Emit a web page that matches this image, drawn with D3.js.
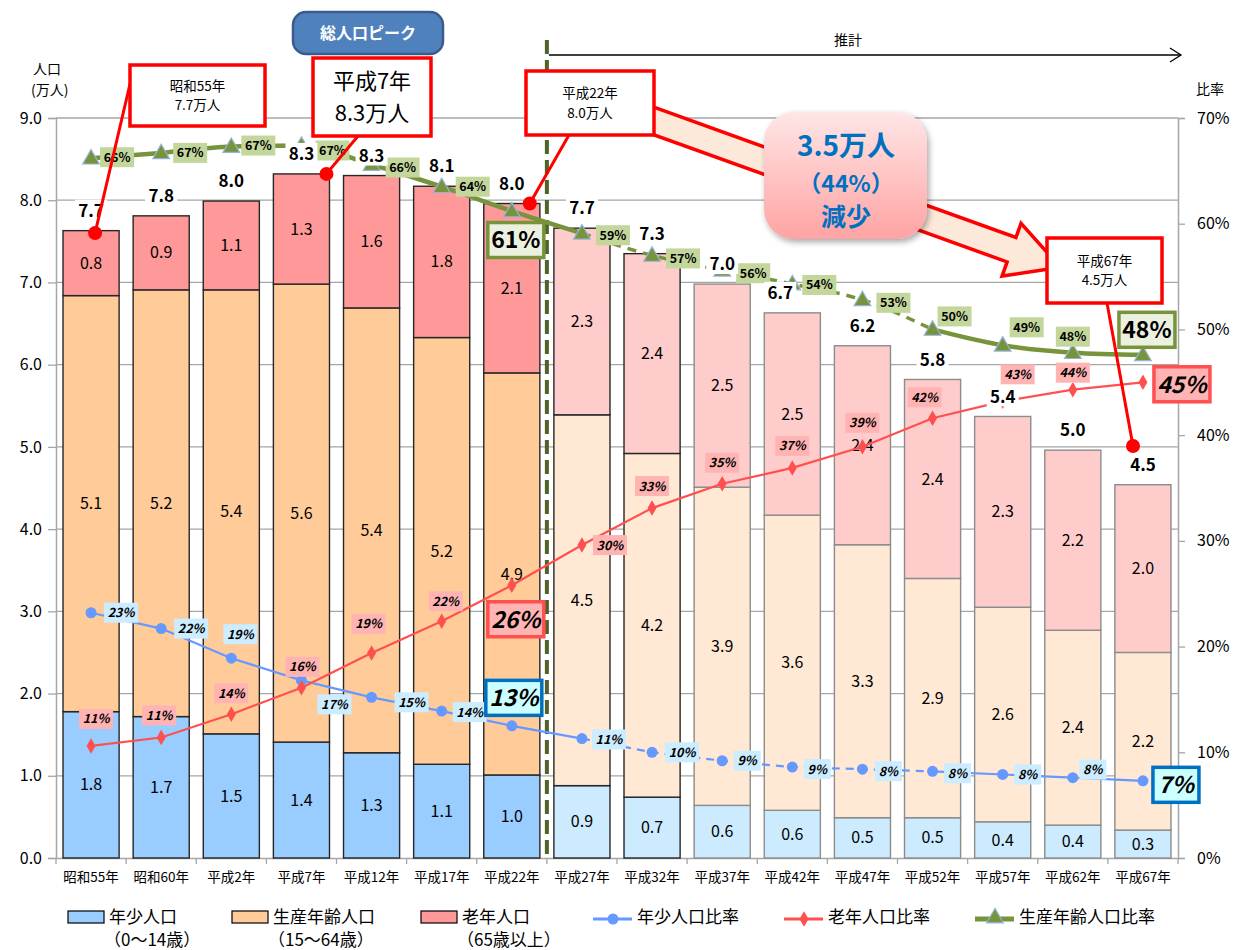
<!DOCTYPE html>
<html>
<head>
<meta charset="utf-8">
<script src="https://cdn.jsdelivr.net/npm/d3@7"></script>
<style>
  body { margin: 0; background: #fff; }
  svg { display: block; font-family: "Noto Sans CJK JP", "Noto Sans", sans-serif; }
</style>
</head>
<body>
<div id="chart"></div>
<script>
// Population by age group (10,000 people)
const categories = ['昭和55年', '昭和60年', '平成2年', '平成7年', '平成12年', '平成17年', '平成22年', '平成27年',
    '平成32年', '平成37年', '平成42年', '平成47年', '平成52年', '平成57年', '平成62年', '平成67年'];
const youngPop = [1.78, 1.72, 1.51, 1.41, 1.28, 1.14, 1.01, 0.88, 0.74, 0.64, 0.58, 0.49, 0.49, 0.44, 0.40, 0.34];
const workingPop = [5.06, 5.19, 5.40, 5.57, 5.41, 5.19, 4.89, 4.51, 4.18, 3.87, 3.59, 3.32, 2.91, 2.61, 2.37, 2.16];
const elderlyPop = [0.79, 0.90, 1.08, 1.34, 1.61, 1.84, 2.06, 2.27, 2.43, 2.47, 2.46, 2.42, 2.42, 2.32, 2.19, 2.04];
const totalLabels = ['7.7', '7.8', '8.0', '8.3', '8.3', '8.1', '8.0', '7.7', '7.3', '7.0', '6.7', '6.2', '5.8', '5.4', '5.0', '4.5'];

// Ratios (%)
const youngRatio = [23.2, 21.7, 18.9, 16.8, 15.2, 13.9, 12.5, 11.3, 10.0, 9.2, 8.6, 8.4, 8.2, 7.9, 7.6, 7.3];
const elderlyRatio = [10.6, 11.4, 13.6, 16.1, 19.4, 22.4, 25.8, 29.6, 33.1, 35.4, 36.9, 38.9, 41.6, 43.2, 44.3, 45.0];
const workingRatio = [66.2, 66.7, 67.3, 67.4, 65.6, 63.5, 61.2, 59.1, 57.0, 55.6, 54.3, 52.8, 50.0, 48.5, 47.8, 47.6];

const leftTicks = [0, 1, 2, 3, 4, 5, 6, 7, 8, 9];
const rightTicks = [0, 10, 20, 30, 40, 50, 60, 70];

const projectionStart = 7;   // 平成27年 onward is 推計
const highlight = [6, 15];   // 平成22年 and 平成67年

// label offsets from their point (layout only)
const youngLabelOff = [[30,0],[30,0],[9,-24],[33,24],[40,5],[28,1],[2,-28],[27,1],[30,0],[25,0],[25,2],[26,2],[25,2],[25,0],[20,-8],[33,4]];
const elderlyLabelOff = [[5,-27],[-2,-22],[0,-21],[1,-21],[-3,-29],[4,-20],[4,34],[28,0],[0,-22],[0,-21],[0,-22],[0,-24],[-8,-21],[15,-27],[0,-17],[39,2]];
const workingLabelOff = [[26,-1],[29,0],[27,-1],[31,5],[31,3],[31,0],[4,29],[31,2],[31,3],[31,3],[27,1],[31,3],[22,-13],[24,-18],[0,-16],[4,-25]];

function createChart() {
    const width = 1239, height = 950;
    const plot = { left: 56, right: 1178, top: 118, bottom: 858 };

    const svg = d3.select('#chart').append('svg')
        .attr('width', width)
        .attr('height', height);

    const defs = svg.append('defs');
    const grad = defs.append('linearGradient').attr('id', 'pinkGrad')
        .attr('x1', 0).attr('y1', 0).attr('x2', 0).attr('y2', 1);
    grad.append('stop').attr('offset', '0%').attr('stop-color', '#FFE6E6');
    grad.append('stop').attr('offset', '100%').attr('stop-color', '#FFA3A3');
    const shadow = defs.append('filter').attr('id', 'shadow')
        .attr('x', '-20%').attr('y', '-20%').attr('width', '140%').attr('height', '140%');
    shadow.append('feDropShadow').attr('dx', 2).attr('dy', 3).attr('stdDeviation', 3)
        .attr('flood-color', '#000').attr('flood-opacity', 0.35);

    const x = d3.scaleBand().domain(categories)
        .range([plot.left, plot.right]).paddingInner(0.2).paddingOuter(0.1);
    const y = d3.scaleLinear().domain([0, 9]).range([plot.bottom, plot.top]);
    const yR = d3.scaleLinear().domain([0, 70]).range([plot.bottom, plot.top]);
    const cx = i => x(categories[i]) + x.bandwidth() / 2;

    // gridlines
    svg.append('g').selectAll('line').data(leftTicks.filter(d => d > 0)).join('line')
        .attr('x1', plot.left).attr('x2', plot.right)
        .attr('y1', d => y(d)).attr('y2', d => y(d))
        .attr('stroke', '#A6A6A6').attr('stroke-width', 1.3);

    // axes
    const leftAxis = svg.append('g').attr('transform', `translate(${plot.left},0)`)
        .call(d3.axisLeft(y).tickValues(leftTicks).tickFormat(d3.format('.1f')).tickSize(8).tickPadding(6));
    const rightAxis = svg.append('g').attr('transform', `translate(${plot.right},0)`)
        .call(d3.axisRight(yR).tickValues(rightTicks).tickFormat(d => d + '%').tickSize(7).tickPadding(12));
    const bottomAxis = svg.append('g').attr('transform', `translate(0,${plot.bottom})`)
        .call(d3.axisBottom(x).tickSize(0).tickPadding(14));
    [leftAxis, rightAxis, bottomAxis].forEach(a => {
        a.select('.domain').attr('stroke', '#A6A6A6').attr('stroke-width', 1.5);
        a.selectAll('.tick line').attr('stroke', '#A6A6A6').attr('stroke-width', 1.3);
        a.selectAll('text').attr('fill', '#000').style('font-family', '"Noto Sans CJK JP", sans-serif');
    });
    leftAxis.selectAll('text').attr('font-size', 16);
    rightAxis.selectAll('text').attr('font-size', 16);
    bottomAxis.selectAll('text').attr('font-size', 13.5);
    // category boundary ticks on the bottom axis
    svg.append('g').selectAll('line').data(d3.range(categories.length + 1)).join('line')
        .attr('x1', i => plot.left + i * x.step()).attr('x2', i => plot.left + i * x.step())
        .attr('y1', plot.bottom).attr('y2', plot.bottom + 6)
        .attr('stroke', '#A6A6A6').attr('stroke-width', 1.3);

    // stacked bars
    const rows = categories.map((c, i) => ({ cat: c, i, young: youngPop[i], working: workingPop[i], elderly: elderlyPop[i] }));
    const keys = ['young', 'working', 'elderly'];
    const stack = d3.stack().keys(keys)(rows);
    const fillActual = { young: '#99CCFF', working: '#FFCC99', elderly: '#FF9999' };
    const fillProj = { young: '#CCEBFF', working: '#FFE9D4', elderly: '#FFCCCC' };

    const barG = svg.append('g');
    stack.forEach(layer => {
        barG.append('g').selectAll('rect').data(layer).join('rect')
            .attr('x', d => x(d.data.cat))
            .attr('width', x.bandwidth())
            .attr('y', d => y(d[1]))
            .attr('height', d => y(d[0]) - y(d[1]))
            .attr('fill', d => d.data.i >= projectionStart ? fillProj[layer.key] : fillActual[layer.key])
            .attr('stroke', d => d.data.i <= 8 ? '#262626' : '#8C8C8C')
            .attr('stroke-width', 1.4);
        barG.append('g').selectAll('text').data(layer).join('text')
            .attr('x', d => x(d.data.cat) + x.bandwidth() / 2)
            .attr('y', d => (y(d[0]) + y(d[1])) / 2)
            .attr('dy', '0.35em')
            .attr('text-anchor', 'middle')
            .attr('font-size', 16)
            .attr('fill', '#000')
            .text(d => d3.format('.1f')(d.data[layer.key]));
    });

    // 推計 divider
    const divX = plot.left + projectionStart * x.step();
    svg.append('line')
        .attr('x1', divX).attr('x2', divX).attr('y1', 40).attr('y2', plot.bottom)
        .attr('stroke', '#4F6228').attr('stroke-width', 4).attr('stroke-dasharray', '14,6');
    svg.append('line')
        .attr('x1', divX + 2).attr('x2', 1181).attr('y1', 55).attr('y2', 55)
        .attr('stroke', '#000').attr('stroke-width', 1.3);
    svg.append('path').attr('d', 'M1170,48 L1181,55 L1170,62')
        .attr('fill', 'none').attr('stroke', '#000').attr('stroke-width', 1.3);
    svg.append('text').attr('x', 848).attr('y', 45).attr('text-anchor', 'middle')
        .attr('font-size', 14).text('推計');

    // axis titles
    svg.append('text').attr('x', 33).attr('y', 74).attr('font-size', 14).text('人口');
    svg.append('text').attr('x', 31).attr('y', 95).attr('font-size', 14).text('(万人)');
    svg.append('text').attr('x', 1196).attr('y', 94).attr('font-size', 14).text('比率');

    // ratio lines
    const segments = [[0, projectionStart, false], [projectionStart, 12, true], [12, 15, false]];
    function drawRatio(values, color, widthSolid, widthDash, dash, curve, split) {
        const line = d3.line().x(d => cx(d)).y(d => yR(values[d])).curve(curve);
        const parts = split ? segments : [[0, values.length - 1, false]];
        parts.forEach(([a, b, dashed]) => {
            svg.append('path')
                .attr('d', line(d3.range(a, b + 1)))
                .attr('fill', 'none')
                .attr('stroke', color)
                .attr('stroke-width', dashed ? widthDash : widthSolid)
                .attr('stroke-dasharray', dashed ? dash : null);
        });
    }
    drawRatio(youngRatio, '#6699FF', 2.2, 2.2, '8,6', d3.curveLinear, true);
    drawRatio(elderlyRatio, '#FF5050', 2.2, 2.2, null, d3.curveLinear, false);
    drawRatio(workingRatio, '#77933C', 4.5, 3.5, '9,7', d3.curveMonotoneX, true);

    // markers
    svg.append('g').selectAll('circle').data(youngRatio).join('circle')
        .attr('cx', (d, i) => cx(i)).attr('cy', d => yR(d)).attr('r', 5.5).attr('fill', '#6699FF');
    svg.append('g').selectAll('path').data(elderlyRatio).join('path')
        .attr('transform', (d, i) => `translate(${cx(i)},${yR(d)})`)
        .attr('d', d3.symbol(d3.symbolDiamond, 70)).attr('fill', '#FF5050');
    svg.append('g').selectAll('path').data(workingRatio).join('path')
        .attr('transform', (d, i) => `translate(${cx(i)},${yR(d) + 1})`)
        .attr('d', d3.symbol(d3.symbolTriangle, 120)).attr('fill', '#77933C')
        .attr('stroke', '#95B3D7').attr('stroke-width', 1.2);

    // ratio labels
    function ratioLabels(values, offsets, bg, italic, bigStyle) {
        const g = svg.append('g');
        values.forEach((v, i) => {
            const lx = cx(i) + offsets[i][0];
            const ly = yR(v) + offsets[i][1];
            const txt = Math.round(v) + '%';
            const big = highlight.includes(i);
            const w = big ? (txt.length > 2 ? 56 : 46) : (txt.length > 2 ? 34 : 27);
            const h = big ? 35 : 20;
            g.append('rect')
                .attr('x', lx - w / 2).attr('y', ly - h / 2).attr('width', w).attr('height', h)
                .attr('fill', big ? bigStyle.fill : bg)
                .attr('stroke', big ? bigStyle.stroke : 'none')
                .attr('stroke-width', big ? 3.5 : 0);
            g.append('text')
                .attr('x', lx).attr('y', ly).attr('dy', '0.36em')
                .attr('text-anchor', 'middle')
                .attr('font-size', big ? 23 : 12.5)
                .attr('font-weight', 'bold')
                .attr('font-style', italic ? 'italic' : 'normal')
                .attr('fill', '#000')
                .text(txt);
        });
    }
    ratioLabels(workingRatio, workingLabelOff, '#C3D69B', false, { fill: '#EBF1DE', stroke: '#77933C' });
    ratioLabels(elderlyRatio, elderlyLabelOff, '#FFB3B3', true, { fill: '#FFB3B3', stroke: '#FF5050' });
    ratioLabels(youngRatio, youngLabelOff, '#CCECFF', true, { fill: '#CCFFFF', stroke: '#0070C0' });

    // total labels
    const totG = svg.append('g');
    totalLabels.forEach((t, i) => {
        const top = y(youngPop[i] + workingPop[i] + elderlyPop[i]);
        const lx = cx(i) + (i === 10 ? -12 : 0);
        totG.append('rect').attr('x', lx - 16).attr('y', top - 31).attr('width', 32).attr('height', 21).attr('fill', '#fff');
        totG.append('text').attr('x', lx).attr('y', top - 20).attr('dy', '0.36em')
            .attr('text-anchor', 'middle').attr('font-size', 17).attr('font-weight', 'bold').text(t);
    });

    // big decrease arrow
    svg.append('path')
        .attr('transform', 'translate(654,121) rotate(19.8)')
        .attr('d', 'M-10,-13 L380,-13 L380,-28 L432,0 L380,28 L380,13 L-10,13 Z')
        .attr('fill', '#FDE9D9').attr('stroke', '#FF0000').attr('stroke-width', 3.5)
        .attr('stroke-linejoin', 'miter');

    // decrease box
    svg.append('rect').attr('x', 764).attr('y', 112).attr('width', 163).attr('height', 127)
        .attr('rx', 30).attr('fill', 'url(#pinkGrad)').attr('filter', 'url(#shadow)');
    const decTxt = [['3.5万人', 156, 28], ['（44%）', 192, 23], ['減少', 226, 25]];
    decTxt.forEach(([t, ty, fs]) => {
        svg.append('text').attr('x', 846).attr('y', ty).attr('text-anchor', 'middle')
            .attr('font-size', fs).attr('font-weight', 'bold').attr('fill', '#0070C0').text(t);
    });

    // callouts
    function callout(bx, by, bw, bh, lines, fs, from, to) {
        svg.append('line').attr('x1', from[0]).attr('y1', from[1]).attr('x2', to[0]).attr('y2', to[1])
            .attr('stroke', '#FF0000').attr('stroke-width', 3);
        svg.append('circle').attr('cx', to[0]).attr('cy', to[1]).attr('r', 7).attr('fill', '#FF0000');
        svg.append('rect').attr('x', bx).attr('y', by).attr('width', bw).attr('height', bh)
            .attr('fill', '#fff').attr('stroke', '#FF0000').attr('stroke-width', 3.5);
        const lh = fs * 1.45;
        const y0 = by + bh / 2 - lh * (lines.length - 1) / 2;
        lines.forEach((t, k) => {
            svg.append('text').attr('x', bx + bw / 2).attr('y', y0 + lh * k).attr('dy', '0.36em')
                .attr('text-anchor', 'middle').attr('font-size', fs).text(t);
        });
    }
    callout(130, 65, 135, 61, ['昭和55年', '7.7万人'], 13.5, [130, 84], [cx(0) + 4, y(7.6)]);
    callout(313, 58, 118, 78, ['平成7年', '8.3万人'], 22, [358, 136], [cx(3) + 25, y(8.32)]);
    callout(526, 71, 128, 64, ['平成22年', '8.0万人'], 13.5, [569, 135], [cx(6) + 18, y(7.96)]);
    callout(1047, 238, 115, 65, ['平成67年', '4.5万人'], 13.5, [1107, 303], [1133, 446]);

    // 総人口ピーク badge
    svg.append('rect').attr('x', 293).attr('y', 12).attr('width', 150).attr('height', 42).attr('rx', 13)
        .attr('fill', '#4F81BD').attr('stroke', '#385D8A').attr('stroke-width', 2.5);
    svg.append('text').attr('x', 368).attr('y', 33).attr('dy', '0.36em').attr('text-anchor', 'middle')
        .attr('font-size', 16).attr('font-weight', 'bold').attr('fill', '#fff').text('総人口ピーク');

    // legend
    const leg = svg.append('g').attr('font-size', 17);
    const boxes = [
        { x: 68, key: 'young', name: '年少人口', sub: '（0〜14歳）', subX: 104 },
        { x: 232, key: 'working', name: '生産年齢人口', sub: '（15〜64歳）', subX: 268 },
        { x: 421, key: 'elderly', name: '老年人口', sub: '（65歳以上）', subX: 457 }
    ];
    boxes.forEach(b => {
        leg.append('rect').attr('x', b.x).attr('y', 911).attr('width', 36).attr('height', 12)
            .attr('fill', fillActual[b.key]).attr('stroke', '#000').attr('stroke-width', 1.2);
        leg.append('text').attr('x', b.x + 41).attr('y', 917).attr('dy', '0.36em').text(b.name);
        leg.append('text').attr('x', b.subX).attr('y', 940).attr('dy', '0.36em').text(b.sub);
    });
    const lineLeg = [
        { x: 593, color: '#6699FF', w: 3, name: '年少人口比率', marker: 'circle' },
        { x: 784, color: '#FF5050', w: 3, name: '老年人口比率', marker: 'diamond' },
        { x: 975, color: '#77933C', w: 5, name: '生産年齢人口比率', marker: 'triangle' }
    ];
    lineLeg.forEach(l => {
        leg.append('line').attr('x1', l.x).attr('x2', l.x + 39).attr('y1', 919).attr('y2', 919)
            .attr('stroke', l.color).attr('stroke-width', l.w);
        const m = l.x + 20;
        if (l.marker === 'circle') {
            leg.append('circle').attr('cx', m).attr('cy', 919).attr('r', 5.5).attr('fill', l.color);
        } else if (l.marker === 'diamond') {
            leg.append('path').attr('transform', `translate(${m},919)`)
                .attr('d', d3.symbol(d3.symbolDiamond, 70)).attr('fill', l.color);
        } else {
            leg.append('path').attr('transform', `translate(${m},918)`)
                .attr('d', d3.symbol(d3.symbolTriangle, 120)).attr('fill', l.color)
                .attr('stroke', '#95B3D7').attr('stroke-width', 1.2);
        }
        leg.append('text').attr('x', l.x + 44).attr('y', 917).attr('dy', '0.36em').text(l.name);
    });
}

document.addEventListener('DOMContentLoaded', () => {
    createChart();
});
</script>
</body>
</html>
